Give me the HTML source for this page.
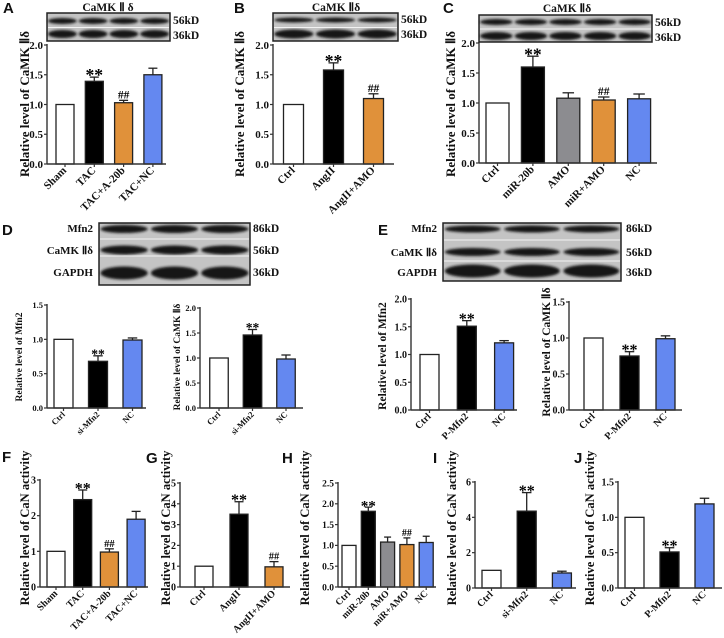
<!DOCTYPE html>
<html><head><meta charset="utf-8"><style>
html,body{margin:0;padding:0;background:#fff;}
svg{display:block;font-family:"Liberation Serif",serif;font-weight:bold;}
svg text{font-weight:bold;}
.pl{font-family:"Liberation Sans",sans-serif;font-weight:bold;font-size:15px;}
</style></head><body>
<svg id="fig" width="724" height="638" viewBox="0 0 724 638">
<defs><filter id="bl" x="-20%" y="-50%" width="140%" height="200%"><feGaussianBlur stdDeviation="1.3"/></filter></defs>
<g id="root"></g>
</svg>
<script>
// ---- data ----
const aCats=["Sham","TAC","TAC+A-20b","TAC+NC"], aVals=[1,1.39,1.03,1.5], aErrs=[0,0.07,0.04,0.11], aMarks=["","**","##",""], aTicks=[0,0.5,1,1.5,2];
const bCats=["Ctrl","AngII","AngII+AMO"], bVals=[1,1.58,1.1], bErrs=[0,0.12,0.08], bMarks=["","**","##"], bTicks=[0,0.5,1,1.5,2];
const cCats=["Ctrl","miR-20b","AMO","miR+AMO","NC"], cVals=[1,1.6,1.08,1.05,1.07], cErrs=[0,0.18,0.09,0.05,0.08], cMarks=["","**","","##",""], cTicks=[0,0.5,1,1.5,2];
const d1Cats=["Ctrl","si-Mfn2","NC"], d1Vals=[1,0.68,0.99], d1Errs=[0,0.08,0.03], d1Marks=["","**",""], d1Ticks=[0,0.5,1,1.5];
const d2Cats=["Ctrl","si-Mfn2","NC"], d2Vals=[1,1.46,0.98], d2Errs=[0,0.11,0.08], d2Marks=["","**",""], d2Ticks=[0,0.5,1,1.5,2];
const e1Cats=["Ctrl","P-Mfn2","NC"], e1Vals=[1,1.51,1.21], e1Errs=[0,0.1,0.04], e1Marks=["","**",""], e1Ticks=[0,0.5,1,1.5,2];
const e2Cats=["Ctrl","P-Mfn2","NC"], e2Vals=[1,0.75,0.99], e2Errs=[0,0.06,0.04], e2Marks=["","**",""], e2Ticks=[0,0.5,1,1.5];
const fCats=["Sham","TAC","TAC+A-20b","TAC+NC"], fVals=[1,2.45,0.98,1.9], fErrs=[0,0.27,0.09,0.22], fMarks=["","**","##",""], fTicks=[0,1,2,3];
const gCats=["Ctrl","AngII","AngII+AMO"], gVals=[1,3.5,0.97], gErrs=[0,0.6,0.25], gMarks=["","**","##"], gTicks=[0,1,2,3,4,5];
const hCats=["Ctrl","miR-20b","AMO","miR+AMO","NC"], hVals=[1,1.82,1.08,1.02,1.07], hErrs=[0,0.1,0.12,0.16,0.15], hMarks=["","**","","##",""], hTicks=[0,0.5,1,1.5,2,2.5];
const iCats=["Ctrl","si-Mfn2","NC"], iVals=[1,4.35,0.85], iErrs=[0,1.05,0.1], iMarks=["","**",""], iTicks=[0,2,4,6];
const jCats=["Ctrl","P-Mfn2","NC"], jVals=[1,0.51,1.19], jErrs=[0,0.06,0.08], jMarks=["","**",""], jTicks=[0,0.5,1,1.5];
// ---- drawing ----
const NS="http://www.w3.org/2000/svg", root=document.getElementById('root');
function mk(tag,at,parent,txt){const e=document.createElementNS(NS,tag);for(const k in at)e.setAttribute(k,at[k]);if(txt!==undefined)e.textContent=txt;(parent||root).appendChild(e);return e;}
const COL={w:"#ffffff",k:"#000000",o:"#E0913A",b:"#6488F0",g:"#8C8C90"};
function chart(name,o,cats,vals,errs,marks,ticks){
  const g=mk('g',{});
  
  
  const tmax=ticks[ticks.length-1];
  const y=v=>o.y0-(v/tmax)*(o.y0-o.yTop);
  const x=i=>o.x0+i*o.step;
  const fs=o.fs;
  const dec=ticks.some(t=>t%1!==0);
  ticks.forEach(t=>{
    mk('line',{x1:o.ax-3,x2:o.ax,y1:y(t),y2:y(t),stroke:'#333','stroke-width':1.2},g);
    const tl=mk('text',{x:o.ax-4,y:y(t)+fs*0.35,'font-size':fs,'text-anchor':'end',fill:'#111'},g,dec?t.toFixed(1):String(t));
    
    
  });
  cats.forEach((c,i)=>{
    const cx=x(i),top=y(vals[i]);
    const r=mk('rect',{x:cx-o.w/2,y:top,width:o.w,height:o.y0-top,fill:COL[o.cols[i]],stroke:'#222','stroke-width':1.3},g);
    
    
    if(errs[i]>0){const et=y(vals[i]+errs[i]);
      mk('line',{x1:cx,x2:cx,y1:top,y2:et,stroke:'#222','stroke-width':1.3},g);
      mk('line',{x1:cx-o.w/4,x2:cx+o.w/4,y1:et,y2:et,stroke:'#222','stroke-width':1.3},g);}
    if(marks[i]){const mt=y(vals[i]+errs[i])-2;
      const m=mk('text',{x:cx,y:marks[i]=="**"?mt+fs*0.55:mt,'font-size':marks[i]=="**"?fs*1.6:fs*1.05,'text-anchor':'middle',fill:'#000'},g,marks[i]);
      
      }
    mk('line',{x1:cx,x2:cx,y1:o.y0,y2:o.y0+3,stroke:'#333','stroke-width':1.2},g);
    const xl=mk('text',{x:cx+2,y:o.y0+7,'font-size':fs,'text-anchor':'end',fill:'#111',transform:`rotate(-45 ${cx+2} ${o.y0+7})`},g,c);
    
    
  });
  mk('line',{x1:o.ax,x2:o.ax,y1:o.yTop-1,y2:o.y0,stroke:'#333','stroke-width':1.4},g);
  mk('line',{x1:o.ax,x2:o.xEnd,y1:o.y0,y2:o.y0,stroke:'#333','stroke-width':1.4},g);
  const ty=o.ty;
  const t=mk('text',{x:o.tx,y:ty,'font-size':o.tfs,'text-anchor':'middle',fill:'#111',transform:`rotate(-90 ${o.tx} ${ty})`},g,o.title);
  
  
}
const CK="Relative level of CaMK Ⅱδ", CN="Relative level of CaN activity", MF="Relative level of Mfn2";
chart('chart-a',{ax:47,y0:164,yTop:45,x0:65,step:29.3,w:18,xEnd:166,cols:['w','k','o','b'],fs:11,title:CK,tx:29,ty:104,tfs:13},aCats,aVals,aErrs,aMarks,aTicks);
chart('chart-b',{ax:273,y0:164,yTop:45,x0:293.5,step:40,w:20,xEnd:394,cols:['w','k','o'],fs:11,title:CK,tx:244,ty:104,tfs:13},bCats,bVals,bErrs,bMarks,bTicks);
chart('chart-c',{ax:479,y0:163,yTop:43,x0:497.5,step:35.4,w:23,xEnd:657,cols:['w','k','g','o','b'],fs:11,title:CK,tx:455,ty:104,tfs:13},cCats,cVals,cErrs,cMarks,cTicks);
chart('chart-d-mfn2',{ax:47,y0:408,yTop:305,x0:63.5,step:34.5,w:19,xEnd:146,cols:['w','k','b'],fs:8.5,title:MF,tx:22,ty:357,tfs:9.5},d1Cats,d1Vals,d1Errs,d1Marks,d1Ticks);
chart('chart-d-camk',{ax:200,y0:408,yTop:308,x0:219,step:33.5,w:18.5,xEnd:303,cols:['w','k','b'],fs:8.5,title:CK,tx:180,ty:357,tfs:9.5},d2Cats,d2Vals,d2Errs,d2Marks,d2Ticks);
chart('chart-e-mfn2',{ax:411,y0:410,yTop:299,x0:429.5,step:37.3,w:19,xEnd:517,cols:['w','k','b'],fs:10,title:MF,tx:386,ty:356,tfs:11.5},e1Cats,e1Vals,e1Errs,e1Marks,e1Ticks);
chart('chart-e-camk',{ax:569,y0:410,yTop:302,x0:593.5,step:36,w:19,xEnd:682,cols:['w','k','b'],fs:10,title:CK,tx:550,ty:352,tfs:11.5},e2Cats,e2Vals,e2Errs,e2Marks,e2Ticks);
chart('chart-f',{ax:40,y0:587,yTop:480,x0:56,step:26.7,w:18,xEnd:148,cols:['w','k','o','b'],fs:10,title:CN,tx:29,ty:528,tfs:12.5},fCats,fVals,fErrs,fMarks,fTicks);
chart('chart-g',{ax:180,y0:587,yTop:483,x0:204,step:35,w:18,xEnd:290,cols:['w','k','o'],fs:10,title:CN,tx:170,ty:528,tfs:12.5},gCats,gVals,gErrs,gMarks,gTicks);
chart('chart-h',{ax:338,y0:587,yTop:483,x0:349,step:19.3,w:14,xEnd:436,cols:['w','k','g','o','b'],fs:9.5,title:CN,tx:309,ty:528,tfs:12.5},hCats,hVals,hErrs,hMarks,hTicks);
chart('chart-i',{ax:475,y0:588,yTop:482,x0:491.5,step:35.2,w:19,xEnd:576,cols:['w','k','b'],fs:10,title:CN,tx:456,ty:528,tfs:12.5},iCats,iVals,iErrs,iMarks,iTicks);
chart('chart-j',{ax:618,y0:588,yTop:482,x0:634.5,step:35,w:19,xEnd:722,cols:['w','k','b'],fs:10,title:CN,tx:594,ty:528,tfs:12.5},jCats,jVals,jErrs,jMarks,jTicks);
// ---- blots ----
function blot(name,x0,y0,x1,y1,lanes,rows,seps){
  const g=mk('g',{});
  
  
  mk('rect',{x:x0,y:y0,width:x1-x0,height:y1-y0,fill:'#c4c4c4',stroke:'#222','stroke-width':1.5},g);
  const lw=(x1-x0)/lanes;
  rows.forEach(r=>{for(let i=0;i<lanes;i++){
    mk('ellipse',{cx:x0+lw*(i+0.5),cy:r[0],rx:lw*0.47,ry:r[1],fill:'#121212',filter:'url(#bl)'},g);}});
  seps.forEach(s=>mk('line',{x1:x0+1,x2:x1-1,y1:s,y2:s,stroke:'#f2f2f2','stroke-width':1},g));
}
blot('blot-a',47,13,170,41,4,[[21,3],[34,4]],[27.5]);
blot('blot-b',273,13,398,41,3,[[20,2.5],[34,4.5]],[27.5]);
blot('blot-c',479,15,652,42,5,[[22,3],[36,4]],[29]);
blot('blot-d',99,223,250,285,3,[[229,4],[250,4.5],[273,6.5]],[239,256]);
blot('blot-e',443,223,621,281,3,[[229,3.5],[252,4],[271,6.5]],[240,261]);
function txt(name,x,y,s,fs,anchor,cls){const t=mk('text',{x:x,y:y,'font-size':fs,'text-anchor':anchor||'start',fill:'#111'},root,s);if(cls)t.setAttribute('class',cls);
  
  }
txt('kd-label',173,24,'56kD',11.5);txt('kd-label',173,39,'36kD',11.5);
txt('kd-label',401,23,'56kD',11.5);txt('kd-label',401,38,'36kD',11.5);
txt('kd-label',655,26,'56kD',11.5);txt('kd-label',655,41,'36kD',11.5);
txt('kd-label',253,232,'86kD',11.5);txt('kd-label',253,254,'56kD',11.5);txt('kd-label',253,276,'36kD',11.5);
txt('kd-label',626,232,'86kD',11.5);txt('kd-label',626,256,'56kD',11.5);txt('kd-label',626,276,'36kD',11.5);
txt('blot-row-label',93,232,'Mfn2',11,'end');txt('blot-row-label',93,254,'CaMK Ⅱδ',11,'end');txt('blot-row-label',93,276,'GAPDH',11,'end');
txt('blot-row-label',437,232,'Mfn2',11,'end');txt('blot-row-label',437,256,'CaMK Ⅱδ',11,'end');txt('blot-row-label',437,276,'GAPDH',11,'end');
txt('blot-title',108,11,'CaMK Ⅱ δ',11.5,'middle');txt('blot-title',336,11,'CaMK Ⅱδ',11.5,'middle');txt('blot-title',567,12,'CaMK Ⅱδ',11.5,'middle');
[['A',3,13],['B',234,13],['C',443,13],['D',2,235],['E',378,235],['F',2,462],['G',146,463],['H',282,463],['I',433,463],['J',574,463]].forEach(p=>txt('panel-label-'+p[0].toLowerCase(),p[1],p[2],p[0],15,'start','pl'));
</script>
</body></html>
